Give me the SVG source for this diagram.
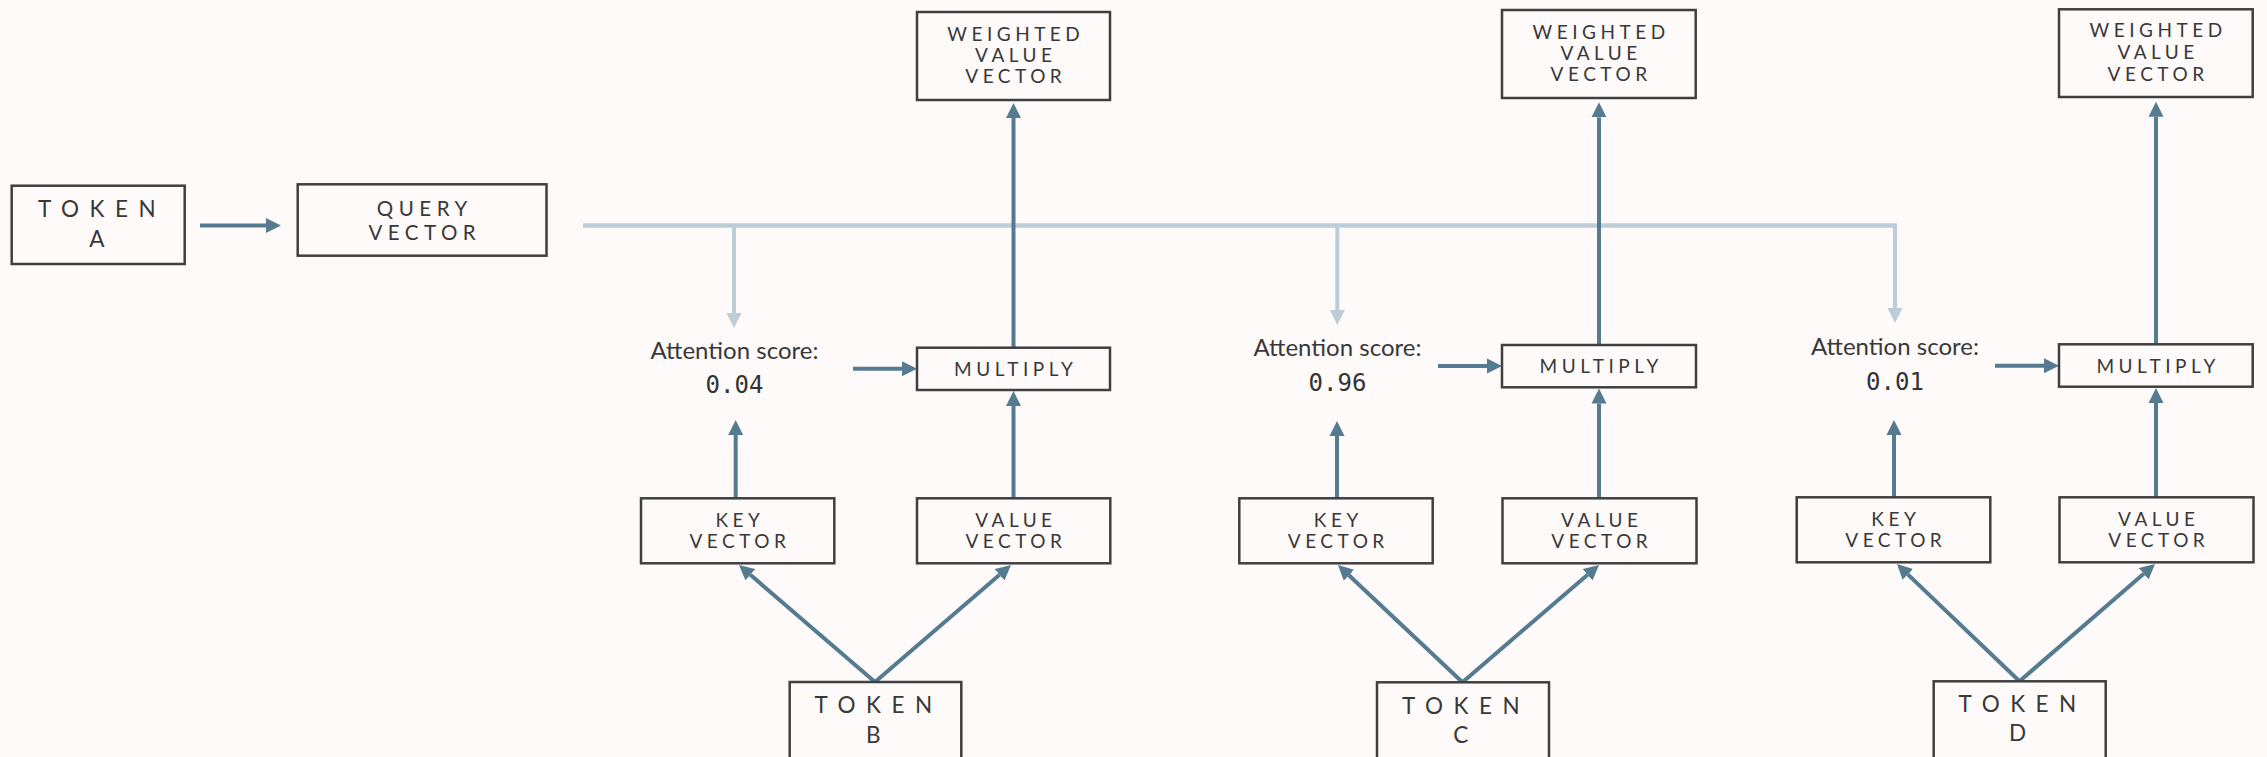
<svg xmlns="http://www.w3.org/2000/svg" width="2267" height="757" viewBox="0 0 2267 757">
  <style>
    .box { fill: #fefafa; stroke: #3f3f3f; stroke-width: 2.5; }
    .lbl { font-family: Lato, "Liberation Sans", sans-serif; fill: #383838; text-anchor: middle; }
    .sm { font-size: 19px; letter-spacing: 4.5px; }
    .qv { font-size: 20.5px; letter-spacing: 5.5px; }
    .tk { font-size: 22.5px; letter-spacing: 10.5px; }
    .score { font-family: Lato, "Liberation Sans", sans-serif; font-size: 24px; fill: #383838; text-anchor: middle; }
    .num { font-family: "DejaVu Sans Mono", "Liberation Mono", monospace; font-size: 24px; fill: #333333; text-anchor: middle; }
    .dark { fill: none; stroke: #557b90; stroke-width: 4; marker-end: url(#ahDark); }
    .light { fill: none; stroke: #bccdd7; stroke-width: 4.5; }
    .light-arr { fill: none; stroke: #bccdd7; stroke-width: 4; marker-end: url(#ahLight); }
  </style>
  <defs>
    <marker id="ahDark" markerUnits="userSpaceOnUse" markerWidth="16" markerHeight="16" viewBox="0 -8 16 16" refX="0" refY="0" orient="auto">
      <path d="M0,-7.5 L15,0 L0,7.5 Z" fill="#557b90"/>
    </marker>
    <marker id="ahLight" markerUnits="userSpaceOnUse" markerWidth="16" markerHeight="16" viewBox="0 -8 16 16" refX="0" refY="0" orient="auto">
      <path d="M0,-7.5 L15,0 L0,7.5 Z" fill="#bccdd7"/>
    </marker>
  </defs>
  <rect width="2267" height="757" fill="#fefafa"/>

  <!-- connectors -->
  <g id="connectors">
    <!-- token A to query -->
    <line class="dark" x1="200" y1="225.5" x2="266" y2="225.5"/>
    <!-- query broadcast bus -->
    <path class="light" d="M583,225.5 H1895"/>
    <path class="light-arr" d="M734,225.5 V313"/>
    <path class="light-arr" d="M1337.3,225.5 V310"/>
    <path class="light-arr" d="M1895,223.5 V308"/>

    <!-- group B -->
    <line class="dark" x1="853" y1="368.7" x2="902" y2="368.7"/>
    <line class="dark" x1="1013.5" y1="347.7" x2="1013.5" y2="118"/>
    <line class="dark" x1="1013.5" y1="498.3" x2="1013.5" y2="406"/>
    <line class="dark" x1="735.7" y1="498.3" x2="735.7" y2="435"/>
    <line class="dark" x1="875" y1="682" x2="750.4" y2="574.8"/>
    <line class="dark" x1="875" y1="682" x2="999.6" y2="574.8"/>

    <!-- group C -->
    <line class="dark" x1="1438" y1="366" x2="1487" y2="366"/>
    <line class="dark" x1="1599" y1="345" x2="1599" y2="117.3"/>
    <line class="dark" x1="1599" y1="498.3" x2="1599" y2="403.5"/>
    <line class="dark" x1="1337" y1="498.3" x2="1337" y2="436"/>
    <line class="dark" x1="1462.5" y1="682.3" x2="1348.9" y2="575.3"/>
    <line class="dark" x1="1462.5" y1="682.3" x2="1587.6" y2="574.8"/>

    <!-- group D -->
    <line class="dark" x1="1995" y1="365.7" x2="2044" y2="365.7"/>
    <line class="dark" x1="2156" y1="344.3" x2="2156" y2="116.7"/>
    <line class="dark" x1="2156" y1="497.3" x2="2156" y2="403"/>
    <line class="dark" x1="1894" y1="497.3" x2="1894" y2="435"/>
    <line class="dark" x1="2019.5" y1="681.3" x2="1907.8" y2="574.4"/>
    <line class="dark" x1="2019.5" y1="681.3" x2="2143.7" y2="573.8"/>
  </g>

  <!-- token A and its query -->
  <g id="token-a">
    <rect class="box" x="11.7" y="185.7" width="173" height="78.3"/>
    <text class="lbl tk" x="102" y="216.7">TOKEN</text>
    <text class="lbl tk" x="102" y="247.3">A</text>
  </g>
  <g id="query-vector">
    <rect class="box" x="297.7" y="184.3" width="248.8" height="71.4"/>
    <text class="lbl qv" x="424.8" y="215.7">QUERY</text>
    <text class="lbl qv" x="424.8" y="240">VECTOR</text>
  </g>

  <!-- group B -->
  <g id="score-b">
    <text class="score" x="734.5" y="359">Attention score:</text>
    <text class="num" x="734.5" y="392.7">0.04</text>
  </g>
  <g id="weighted-b">
    <rect class="box" x="917" y="12" width="193" height="88"/>
    <text class="lbl sm" x="1015.8" y="41">WEIGHTED</text>
    <text class="lbl sm" x="1015.8" y="62">VALUE</text>
    <text class="lbl sm" x="1015.8" y="83">VECTOR</text>
  </g>
  <g id="multiply-b">
    <rect class="box" x="917" y="347.7" width="193" height="42.3"/>
    <text class="lbl sm" x="1015.8" y="376">MULTIPLY</text>
  </g>
  <g id="key-b">
    <rect class="box" x="641" y="498.3" width="193.3" height="65"/>
    <text class="lbl sm" x="739.9" y="527">KEY</text>
    <text class="lbl sm" x="739.9" y="547.7">VECTOR</text>
  </g>
  <g id="value-b">
    <rect class="box" x="917" y="498.3" width="193.3" height="65"/>
    <text class="lbl sm" x="1015.9" y="527">VALUE</text>
    <text class="lbl sm" x="1015.9" y="547.7">VECTOR</text>
  </g>
  <g id="token-b">
    <rect class="box" x="789.7" y="682" width="171.6" height="90"/>
    <text class="lbl tk" x="878.5" y="713.3">TOKEN</text>
    <text class="lbl tk" x="878.5" y="742.7">B</text>
  </g>

  <!-- group C -->
  <g id="score-c">
    <text class="score" x="1337.5" y="356">Attention score:</text>
    <text class="num" x="1337.5" y="390.7">0.96</text>
  </g>
  <g id="weighted-c">
    <rect class="box" x="1502" y="10" width="193.7" height="88"/>
    <text class="lbl sm" x="1601.1" y="39">WEIGHTED</text>
    <text class="lbl sm" x="1601.1" y="60">VALUE</text>
    <text class="lbl sm" x="1601.1" y="81">VECTOR</text>
  </g>
  <g id="multiply-c">
    <rect class="box" x="1502" y="345" width="194" height="42.3"/>
    <text class="lbl sm" x="1601.3" y="373.4">MULTIPLY</text>
  </g>
  <g id="key-c">
    <rect class="box" x="1239.3" y="498.3" width="193.4" height="65"/>
    <text class="lbl sm" x="1338.3" y="527">KEY</text>
    <text class="lbl sm" x="1338.3" y="547.7">VECTOR</text>
  </g>
  <g id="value-c">
    <rect class="box" x="1502.5" y="498.3" width="194" height="65"/>
    <text class="lbl sm" x="1601.8" y="527">VALUE</text>
    <text class="lbl sm" x="1601.8" y="547.7">VECTOR</text>
  </g>
  <g id="token-c">
    <rect class="box" x="1377" y="682.3" width="172" height="90"/>
    <text class="lbl tk" x="1466" y="714.3">TOKEN</text>
    <text class="lbl tk" x="1466" y="743.3">C</text>
  </g>

  <!-- group D -->
  <g id="score-d">
    <text class="score" x="1895" y="355">Attention score:</text>
    <text class="num" x="1895" y="390">0.01</text>
  </g>
  <g id="weighted-d">
    <rect class="box" x="2059" y="9.3" width="193.7" height="87.7"/>
    <text class="lbl sm" x="2158.1" y="37.3">WEIGHTED</text>
    <text class="lbl sm" x="2158.1" y="59">VALUE</text>
    <text class="lbl sm" x="2158.1" y="80.7">VECTOR</text>
  </g>
  <g id="multiply-d">
    <rect class="box" x="2059" y="344.3" width="193.7" height="42.4"/>
    <text class="lbl sm" x="2158.1" y="372.7">MULTIPLY</text>
  </g>
  <g id="key-d">
    <rect class="box" x="1796.7" y="497.3" width="193.6" height="65"/>
    <text class="lbl sm" x="1895.8" y="526">KEY</text>
    <text class="lbl sm" x="1895.8" y="546.7">VECTOR</text>
  </g>
  <g id="value-d">
    <rect class="box" x="2059.5" y="497.3" width="194" height="65"/>
    <text class="lbl sm" x="2158.8" y="526">VALUE</text>
    <text class="lbl sm" x="2158.8" y="546.7">VECTOR</text>
  </g>
  <g id="token-d">
    <rect class="box" x="1933.7" y="681.3" width="172" height="90"/>
    <text class="lbl tk" x="2022.7" y="711.7">TOKEN</text>
    <text class="lbl tk" x="2022.7" y="741">D</text>
  </g>
</svg>
